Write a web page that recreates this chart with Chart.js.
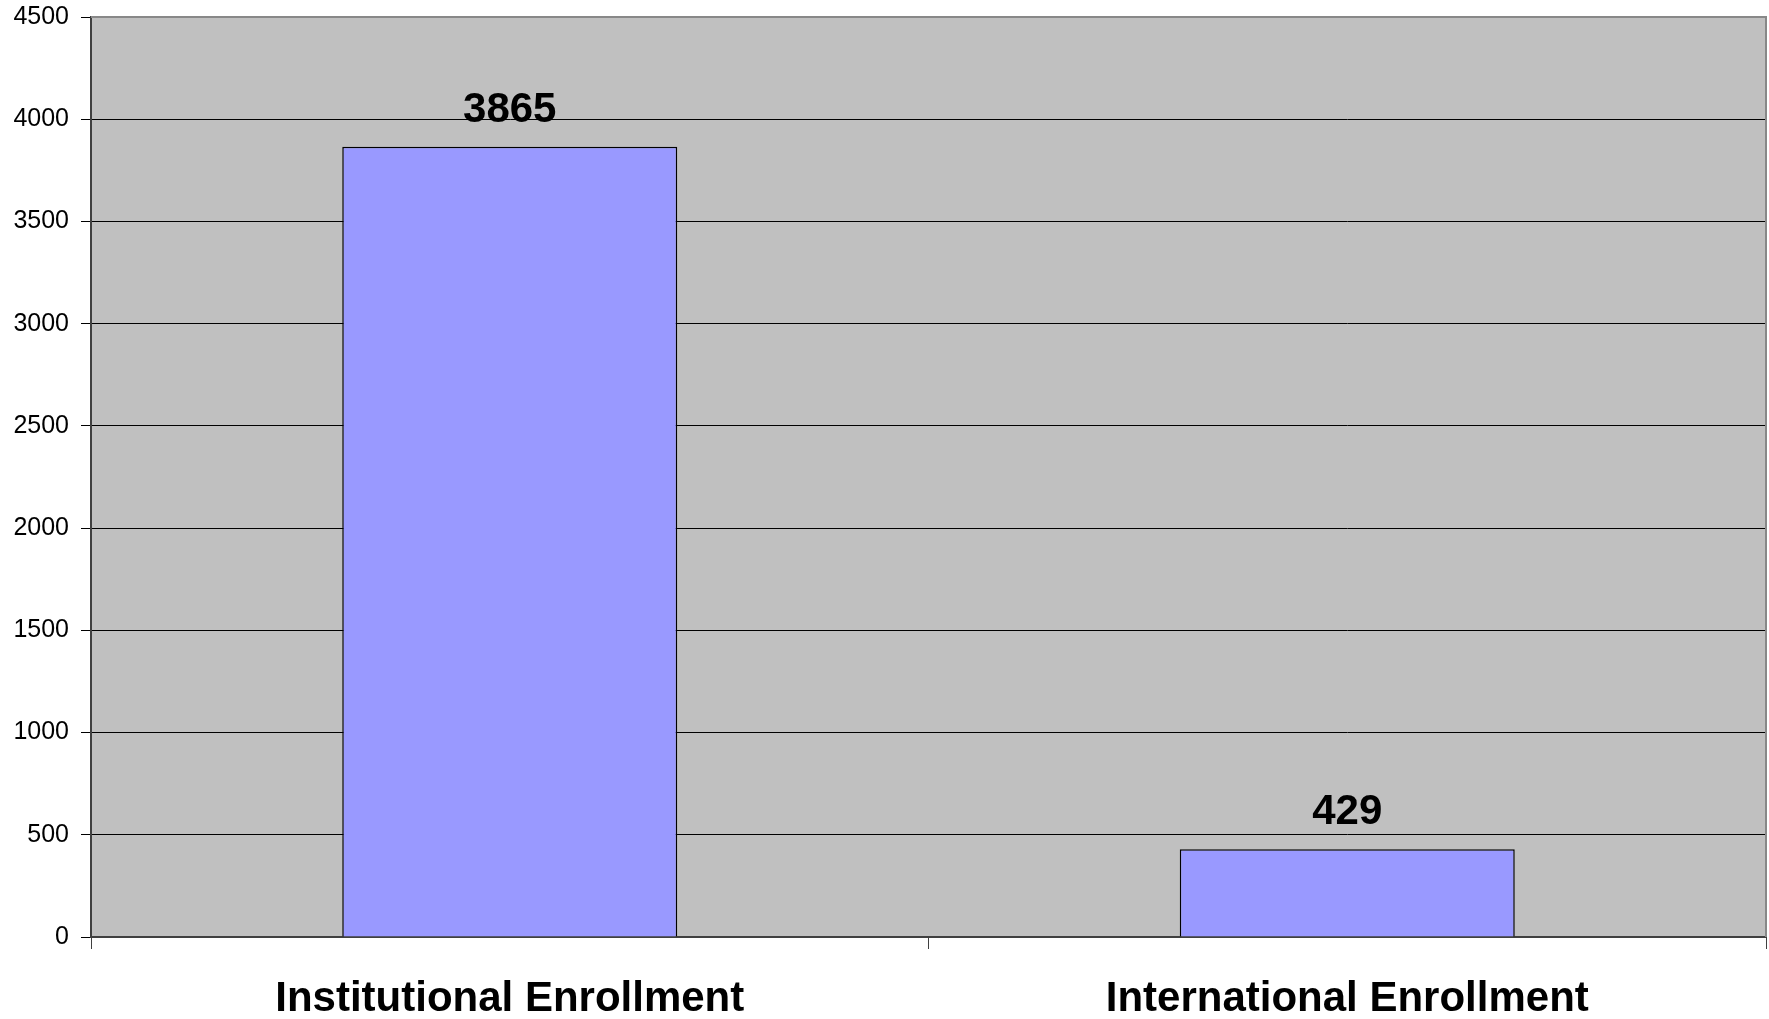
<!DOCTYPE html>
<html lang="en">
<head>
    <meta charset="UTF-8" />
    <title>Enrollment</title>
    <script src="https://cdn.jsdelivr.net/npm/chart.js"></script>
    <style>
        body {
            margin: 0;
            background: #fff;
        }
        #wrap {
            width: 1769px;
            height: 1019px;
        }
    </style>
</head>
<body>
    <div id="wrap"><canvas id="myChart"></canvas></div>

    <script>
        const categories = ['Institutional Enrollment', 'International Enrollment'];
        const enrollment = [3865, 429];
        const yTicks = [0, 500, 1000, 1500, 2000, 2500, 3000, 3500, 4000, 4500];

        // grey plot background
        const plotBg = {
            id: 'plotBg',
            beforeDraw(chart) {
                const { ctx, chartArea: a } = chart;
                ctx.save();
                ctx.fillStyle = '#C0C0C0';
                ctx.fillRect(a.left, a.top, a.right - a.left, a.bottom - a.top);
                ctx.restore();
            }
        };

        // grey frame on top and right, plus value labels above bars
        const extras = {
            id: 'extras',
            afterDatasetsDraw(chart) {
                const { ctx, chartArea: a } = chart;
                ctx.save();
                ctx.strokeStyle = '#888888';
                ctx.lineWidth = 2;
                ctx.beginPath();
                ctx.moveTo(a.left, a.top);
                ctx.lineTo(a.right, a.top);
                ctx.lineTo(a.right, a.bottom);
                ctx.stroke();

                ctx.fillStyle = '#000';
                ctx.font = 'bold 42px "Liberation Sans", Arial, sans-serif';
                ctx.textAlign = 'center';
                ctx.textBaseline = 'alphabetic';
                chart.getDatasetMeta(0).data.forEach((bar, i) => {
                    ctx.fillText(String(enrollment[i]), bar.x, bar.y - 25);
                });
                ctx.restore();
            }
        };

        new Chart(document.getElementById('myChart'), {
            type: 'bar',
            data: {
                labels: categories,
                datasets: [{
                    data: enrollment,
                    backgroundColor: '#9999FF',
                    borderColor: '#000',
                    borderWidth: 1.5,
                    categoryPercentage: 1,
                    barPercentage: 0.4
                }]
            },
            options: {
                responsive: true,
                maintainAspectRatio: false,
                animation: false,
                devicePixelRatio: 1,
                layout: { padding: { top: 17, right: 3, left: 0, bottom: 0 } },
                plugins: {
                    legend: { display: false },
                    tooltip: { enabled: false }
                },
                scales: {
                    x: {
                        grid: {
                            offset: true,
                            drawOnChartArea: false,
                            color: '#404040',
                            tickLength: 12
                        },
                        border: { color: '#404040', width: 2 },
                        ticks: {
                            color: '#000',
                            padding: 25,
                            font: { family: '"Liberation Sans", Arial, sans-serif', size: 42, weight: 'bold' }
                        },
                        afterFit(scale) {
                            scale.height = 82;
                            scale.paddingLeft = 0;
                            scale.paddingRight = 0;
                        }
                    },
                    y: {
                        min: 0,
                        max: 4500,
                        afterBuildTicks(scale) {
                            scale.ticks = yTicks.map(v => ({ value: v }));
                        },
                        grid: {
                            color: '#000',
                            lineWidth: 1,
                            tickLength: 10
                        },
                        border: { color: '#404040', width: 2 },
                        ticks: {
                            color: '#000',
                            padding: 12,
                            font: { family: '"Liberation Sans", Arial, sans-serif', size: 25 },
                            callback: v => String(v)
                        },
                        afterFit(scale) {
                            scale.width = 91;
                            scale.paddingTop = 0;
                            scale.paddingBottom = 0;
                        }
                    }
                }
            },
            plugins: [plotBg, extras]
        });
    </script>
</body>
</html>
